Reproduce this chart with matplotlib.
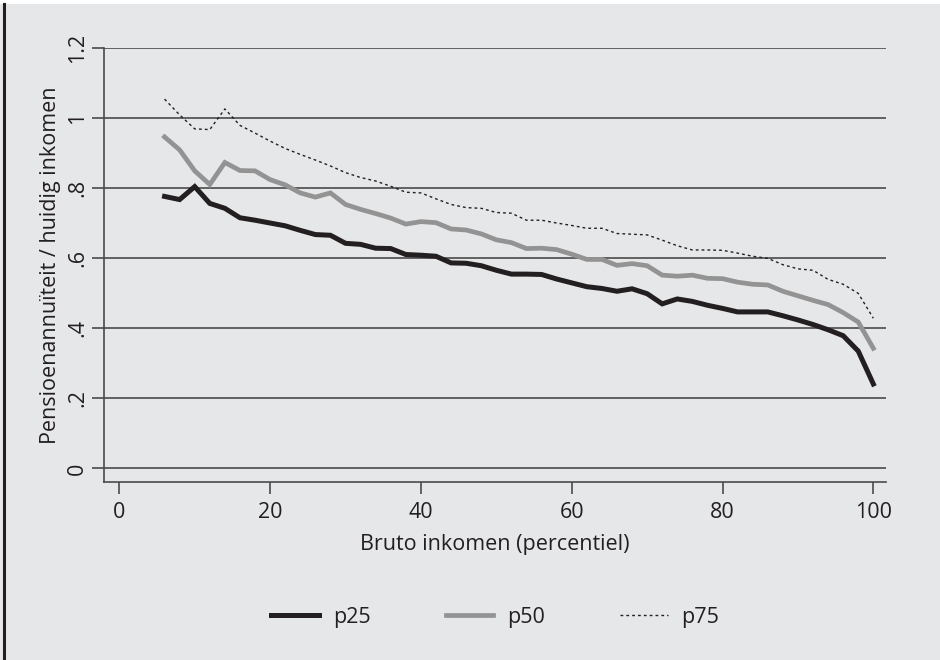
import matplotlib
matplotlib.use("Agg")
import matplotlib.pyplot as plt
from matplotlib.lines import Line2D
from matplotlib.patches import Rectangle

# ---- data ----
percentile = [6, 8, 10, 12, 14, 16, 18, 20, 22, 24, 26, 28, 30, 32, 34, 36, 38, 40,
              42, 44, 46, 48, 50, 52, 54, 56, 58, 60, 62, 64, 66, 68, 70, 72, 74, 76,
              78, 80, 82, 84, 86, 88, 90, 92, 94, 96, 98, 100]

p25 = [0.777, 0.768, 0.805, 0.757, 0.743, 0.716, 0.709, 0.701, 0.693, 0.680, 0.668, 0.666,
       0.643, 0.640, 0.629, 0.628, 0.611, 0.609, 0.606, 0.587, 0.586, 0.579, 0.566, 0.555,
       0.555, 0.554, 0.541, 0.530, 0.519, 0.514, 0.506, 0.513, 0.499, 0.470, 0.484, 0.477,
       0.466, 0.457, 0.447, 0.447, 0.447, 0.436, 0.424, 0.411, 0.396, 0.379, 0.335, 0.241]

p50 = [0.947, 0.910, 0.850, 0.811, 0.874, 0.851, 0.850, 0.825, 0.810, 0.787, 0.775, 0.787,
       0.754, 0.740, 0.728, 0.715, 0.698, 0.705, 0.702, 0.684, 0.681, 0.670, 0.653, 0.645,
       0.628, 0.629, 0.625, 0.612, 0.597, 0.597, 0.580, 0.585, 0.579, 0.552, 0.549, 0.552,
       0.543, 0.542, 0.532, 0.526, 0.524, 0.506, 0.493, 0.480, 0.468, 0.445, 0.418, 0.343]

p75 = [1.055, 1.010, 0.970, 0.968, 1.027, 0.980, 0.958, 0.935, 0.914, 0.897, 0.881, 0.864,
       0.845, 0.831, 0.821, 0.806, 0.789, 0.787, 0.770, 0.754, 0.745, 0.743, 0.731, 0.729,
       0.709, 0.709, 0.701, 0.694, 0.686, 0.686, 0.671, 0.669, 0.667, 0.652, 0.636, 0.624,
       0.624, 0.623, 0.615, 0.606, 0.600, 0.582, 0.570, 0.566, 0.540, 0.526, 0.500, 0.429]

xticks = [0, 20, 40, 60, 80, 100]
yticks = [0, 0.2, 0.4, 0.6, 0.8, 1.0, 1.2]
ytick_labels = ["0", ".2", ".4", ".6", ".8", "1", "1.2"]

xlabel = "Bruto inkomen (percentiel)"
ylabel = "Pensioenannuïteit / huidig inkomen"

# ---- style ----
bg = "#e6e7e9"
grid_c = "#4a4a4a"
plt.rcParams["font.family"] = ["Open Sans", "DejaVu Sans"]

fig = plt.figure(figsize=(9.4, 6.6), dpi=100, facecolor=bg)
ax = fig.add_axes([104 / 940, 1 - 482 / 660, (886 - 104) / 940, (482 - 47.5) / 660])
ax.set_facecolor(bg)

ax.plot(percentile, p25, color="#231f20", lw=3.6, solid_joinstyle="miter", label="p25", zorder=4)
ax.plot(percentile, p50, color="#939393", lw=3.4, solid_joinstyle="miter", label="p50", zorder=3)
ax.plot(percentile, p75, color="#231f20", lw=1.0, linestyle=(0, (2, 2.2)), label="p75", zorder=5)

ax.set_xlim(-2.03, 101.68)
ax.set_ylim(-0.039, 1.2025)

ax.set_yticks(yticks)
ax.set_yticklabels(ytick_labels)
ax.set_xticks(xticks)
ax.yaxis.grid(True, color=grid_c, lw=1.2)
ax.set_axisbelow(True)

for s in ["top", "right"]:
    ax.spines[s].set_visible(False)
for s in ["left", "bottom"]:
    ax.spines[s].set_color(grid_c)
    ax.spines[s].set_linewidth(1.2)

ax.tick_params(axis="both", length=8.6, width=1.2, color=grid_c, labelsize=15.5,
               labelcolor="#231f20")
ax.tick_params(axis="x", pad=6)
ax.tick_params(axis="y", labelrotation=90, pad=3)
for lbl in ax.get_yticklabels():
    lbl.set_va("center")

ax.set_xlabel(xlabel, fontsize=15.5, color="#231f20", labelpad=8)
ax.set_ylabel(ylabel, fontsize=15.5, color="#231f20", labelpad=4)

fig.legend(loc="center", bbox_to_anchor=(0.527, 0.065), ncol=3, frameon=False,
           fontsize=15.5, handlelength=2.2, handletextpad=0.65, columnspacing=3.5,
           labelcolor="#231f20")

# decorations: white strip at top and black left border
fig.add_artist(Rectangle((0, 1 - 4 / 660), 1, 4 / 660, transform=fig.transFigure,
                         facecolor="white", edgecolor="none"))
fig.add_artist(Line2D([3.5 / 940, 3.5 / 940], [0, 1 - 4 / 660], transform=fig.transFigure,
                      color="#231f20", lw=2.2))

fig.savefig("out.png", dpi=100, facecolor=bg)
